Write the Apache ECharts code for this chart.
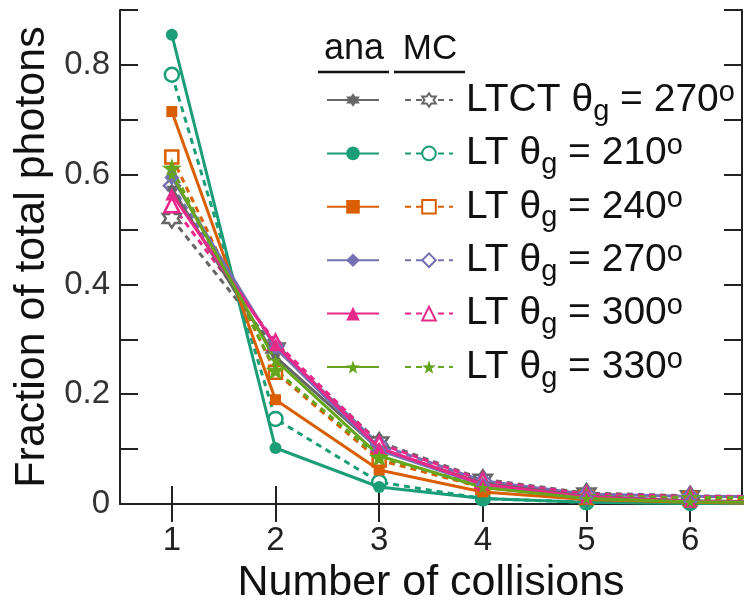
<!DOCTYPE html>
<html>
<head>
<meta charset="utf-8">
<script src="https://cdn.jsdelivr.net/npm/echarts@6/dist/echarts.min.js"></script>
<style>
  html, body { margin: 0; padding: 0; background: #fff; }
  #chart { width: 754px; height: 610px; }
</style>
</head>
<body>
<div id="chart"></div>
<script>
// number of collisions (x)
var collisions = [1, 2, 3, 4, 5, 6, 7];
var xTicks = [1, 2, 3, 4, 5, 6];

// analytic (solid lines)
var ltctAna  = [0.575, 0.268, 0.100, 0.038, 0.014, 0.006, 0.003];
var lt210Ana = [0.855, 0.102, 0.031, 0.010, 0.003, 0.001, 0.001];
var lt240Ana = [0.715, 0.190, 0.062, 0.022, 0.008, 0.003, 0.001];
var lt270Ana = [0.595, 0.285, 0.098, 0.035, 0.012, 0.005, 0.002];
var lt300Ana = [0.565, 0.290, 0.102, 0.036, 0.013, 0.005, 0.002];
var lt330Ana = [0.600, 0.262, 0.088, 0.030, 0.010, 0.004, 0.002];

// Monte Carlo (dashed lines)
var ltctMC  = [0.520, 0.284, 0.113, 0.045, 0.020, 0.015, 0.013];
var lt210MC = [0.782, 0.155, 0.040, 0.010, 0.003, 0.002, 0.002];
var lt240MC = [0.632, 0.240, 0.080, 0.030, 0.012, 0.010, 0.010];
var lt270MC = [0.580, 0.288, 0.108, 0.042, 0.018, 0.014, 0.013];
var lt300MC = [0.545, 0.295, 0.110, 0.043, 0.018, 0.014, 0.013];
var lt330MC = [0.612, 0.244, 0.085, 0.033, 0.014, 0.012, 0.012];

var legendPrefix = ['LTCT', 'LT', 'LT', 'LT', 'LT', 'LT'];
var legendAngle  = [270, 210, 240, 270, 300, 330];

var colors = ['#666666', '#1b9e77', '#d95f02', '#7570b3', '#e7298a', '#66a61e'];

var star5 = 'path://M0,-10 L2.35,-3.24 L9.51,-3.09 L3.8,1.24 L5.88,8.09 L0,4 L-5.88,8.09 L-3.8,1.24 L-9.51,-3.09 L-2.35,-3.24 Z';
var star6 = 'path://M0,-10 L2.9,-5 L8.66,-5 L5.8,0 L8.66,5 L2.9,5 L0,10 L-2.9,5 L-8.66,5 L-5.8,0 L-8.66,-5 L-2.9,-5 Z';

var anaData = [ltctAna, lt210Ana, lt240Ana, lt270Ana, lt300Ana, lt330Ana];
var mcData  = [ltctMC, lt210MC, lt240MC, lt270MC, lt300MC, lt330MC];
var anaSym  = [star6, 'circle', 'rect', 'diamond', 'triangle', star5];
var anaSize = [11, 12, 11, 15, 13, 12];
var mcSym   = [star6, 'circle', 'rect', 'diamond', 'triangle', star5];
var mcSize  = [18, 14, 13, 16, 15, 20];
var mcHollow = [true, true, true, true, true, false];

function pairs(arr) {
    return arr.map(function (v, i) { return [collisions[i], v]; });
}

var series = [];
var anaNames = [], mcNames = [];
for (var i = 0; i < 6; i++) {
    var an = 'ana' + i, mn = 'mc' + i;
    anaNames.push(an); mcNames.push(mn);
    series.push({
        name: an, type: 'line', data: pairs(anaData[i]),
        symbol: anaSym[i], symbolSize: anaSize[i],
        lineStyle: { color: colors[i], width: 3, type: 'solid' },
        itemStyle: { color: colors[i], borderWidth: 0 },
        z: 3
    });
    series.push({
        name: mn, type: 'line', data: pairs(mcData[i]),
        symbol: mcSym[i], symbolSize: mcSize[i],
        lineStyle: { color: colors[i], width: 3, type: [6, 5] },
        itemStyle: mcHollow[i]
            ? { color: '#fff', borderColor: colors[i], borderWidth: 2.5 }
            : { color: colors[i], borderWidth: 0 },
        z: 2
    });
}

function richFor(color) {
    return {
        s: { width: 8, lineHeight: 44 },
        n: { fontSize: 39, fontFamily: 'Liberation Sans', color: color, lineHeight: 44 },
        sub: { fontSize: 29, fontFamily: 'Liberation Sans', color: color, lineHeight: 29, verticalAlign: 'bottom', padding: [0, 0, -4, 0] },
        sup: { fontSize: 29, fontFamily: 'Liberation Sans', color: color, lineHeight: 29, verticalAlign: 'top', padding: [0, 0, 4, 0] }
    };
}
function legendText(name) {
    var k = +name.slice(-1);
    return '{s|}{n|' + legendPrefix[k] + ' \u03b8}{sub|g}{n| = ' + legendAngle[k] + '}{sup|o}';
}

var chart = echarts.init(document.getElementById('chart'));
chart.setOption({
    animation: false,
    backgroundColor: '#fff',
    grid: { left: 120, right: 12, top: 10, bottom: 106 },
    xAxis: [{
        type: 'value', min: 0.5, max: 6.5,
        name: 'Number of collisions', nameLocation: 'middle', nameGap: 56,
        nameTextStyle: { fontSize: 43, fontFamily: 'Liberation Sans', color: '#111' },
        axisLine: { show: true, onZero: false, lineStyle: { color: '#222', width: 2 } },
        axisTick: { show: true, inside: true, length: 18, customValues: xTicks, lineStyle: { color: '#222', width: 2 } },
        axisLabel: { customValues: xTicks, fontSize: 33, fontFamily: 'Liberation Sans', color: '#222', margin: 20 },
        splitLine: { show: false }
    }, {
        type: 'value', min: 0.5, max: 6.5, position: 'top',
        axisLine: { show: true, lineStyle: { color: '#222', width: 2 } },
        axisTick: { show: true, inside: true, length: 18, customValues: xTicks, lineStyle: { color: '#222', width: 2 } },
        axisLabel: { show: false },
        splitLine: { show: false }
    }],
    yAxis: [{
        type: 'value', min: 0, max: 0.9, interval: 0.1,
        name: 'Fraction of total photons', nameLocation: 'middle', nameGap: 64,
        nameTextStyle: { fontSize: 43, fontFamily: 'Liberation Sans', color: '#111' },
        axisLine: { show: true, onZero: false, lineStyle: { color: '#222', width: 2 } },
        axisTick: { show: true, inside: true, length: 18, lineStyle: { color: '#222', width: 2 } },
        axisLabel: {
            fontSize: 33, fontFamily: 'Liberation Sans', color: '#333', margin: 10,
            formatter: function (v) {
                var t = Math.round(v * 10);
                if (t % 2 !== 0 || t > 8) return '';
                return t === 0 ? '0' : v.toFixed(1);
            }
        },
        splitLine: { show: false }
    }, {
        type: 'value', min: 0, max: 0.9, interval: 0.1, position: 'right',
        axisLine: { show: true, lineStyle: { color: '#222', width: 2 } },
        axisTick: { show: true, inside: true, length: 18, lineStyle: { color: '#222', width: 2 } },
        axisLabel: { show: false },
        splitLine: { show: false }
    }],
    legend: [{
        data: anaNames, orient: 'vertical', left: 326, top: 78, padding: 0,
        itemWidth: 52, itemHeight: 17, itemGap: 5.4, textStyle: { rich: richFor('rgba(0,0,0,0)') },
        formatter: legendText, selectedMode: false
    }, {
        data: mcNames, orient: 'vertical', left: 404, top: 78, padding: 0,
        itemWidth: 48, itemHeight: 17, itemGap: 5.4, textStyle: { rich: richFor('#111') },
        formatter: legendText, selectedMode: false
    }],
    graphic: [
        { type: 'text', style: { text: 'ana', x: 354, y: 67, fontSize: 36, fontFamily: 'Liberation Sans', fill: '#111', align: 'center', verticalAlign: 'bottom' } },
        { type: 'text', style: { text: 'MC', x: 430, y: 67, fontSize: 35, fontFamily: 'Liberation Sans', fill: '#111', align: 'center', verticalAlign: 'bottom' } },
        { type: 'line', shape: { x1: 318, y1: 72, x2: 389, y2: 72 }, style: { stroke: '#111', lineWidth: 2.5 } },
        { type: 'line', shape: { x1: 394, y1: 72, x2: 465, y2: 72 }, style: { stroke: '#111', lineWidth: 2.5 } }
    ],
    series: series
});
</script>
</body>
</html>
